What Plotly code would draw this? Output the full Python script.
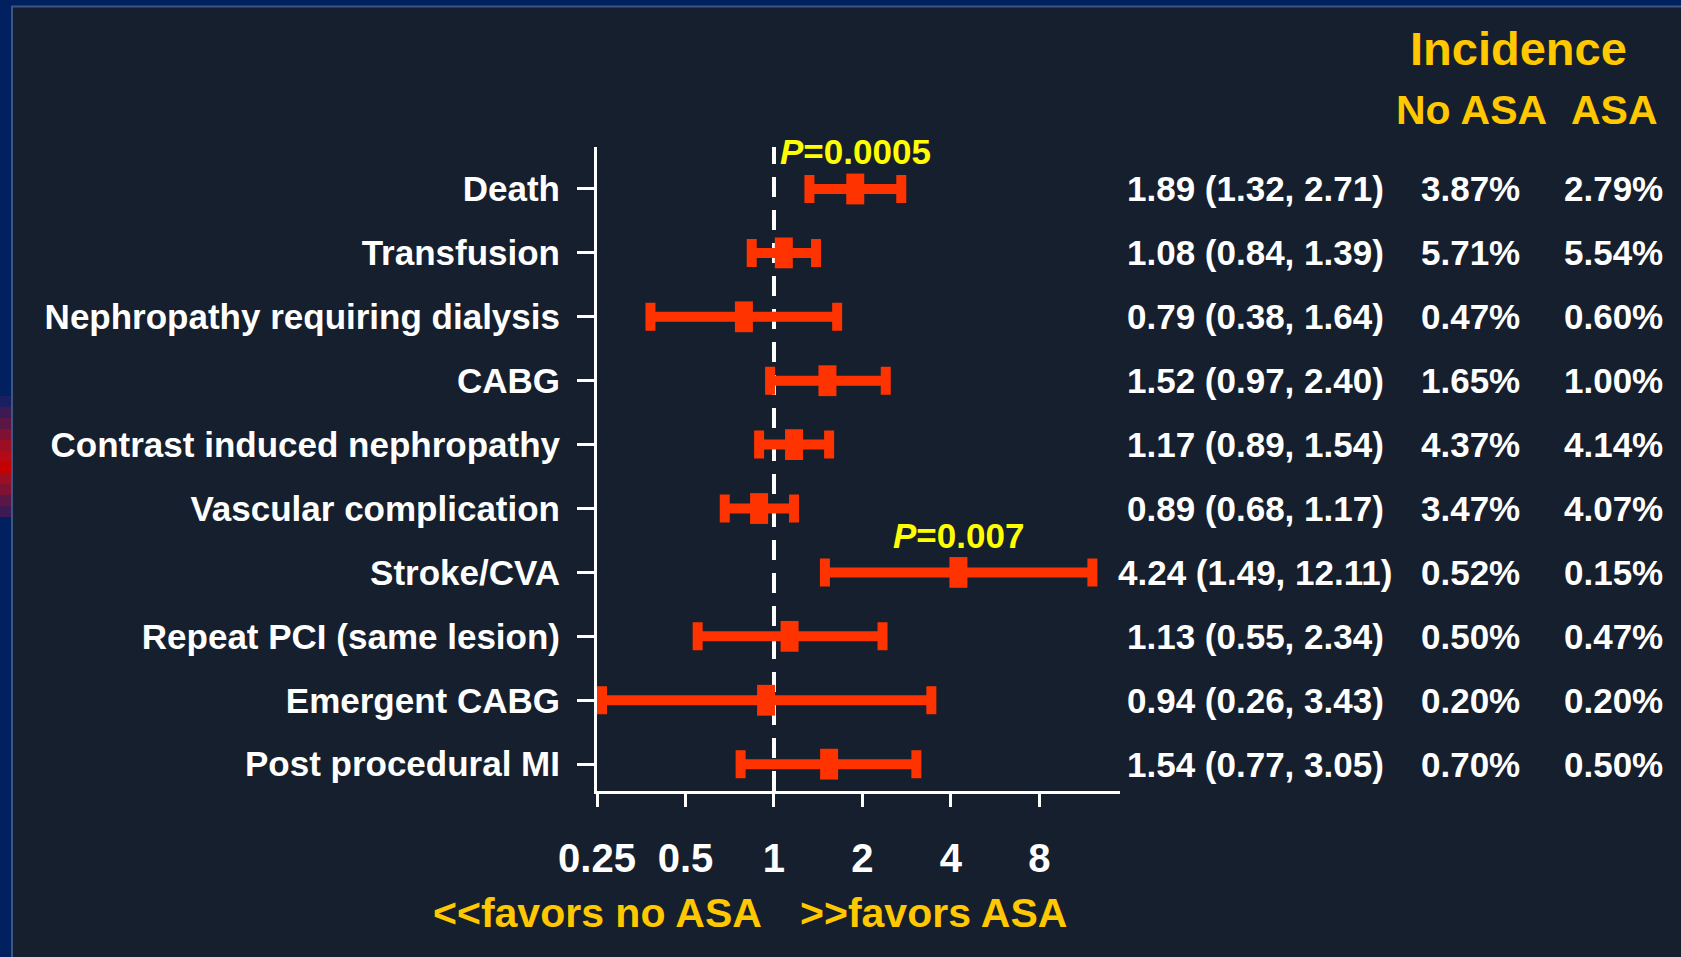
import math
import plotly.graph_objects as go

# ---- data -------------------------------------------------------------
outcomes = [
    "Death",
    "Transfusion",
    "Nephropathy requiring dialysis",
    "CABG",
    "Contrast induced nephropathy",
    "Vascular complication",
    "Stroke/CVA",
    "Repeat PCI (same lesion)",
    "Emergent CABG",
    "Post procedural MI",
]
odds_ratio = [1.89, 1.08, 0.79, 1.52, 1.17, 0.89, 4.24, 1.13, 0.94, 1.54]
ci_low = [1.32, 0.84, 0.38, 0.97, 0.89, 0.68, 1.49, 0.55, 0.26, 0.77]
ci_high = [2.71, 1.39, 1.64, 2.40, 1.54, 1.17, 12.11, 2.34, 3.43, 3.05]
incidence_no_asa = [3.87, 5.71, 0.47, 1.65, 4.37, 3.47, 0.52, 0.50, 0.20, 0.70]
incidence_asa = [2.79, 5.54, 0.60, 1.00, 4.14, 4.07, 0.15, 0.47, 0.20, 0.50]
p_value_labels = {"Death": "0.0005", "Stroke/CVA": "0.007"}
x_tick_values = [0.25, 0.5, 1, 2, 4, 8]
x_tick_labels = ["0.25", "0.5", "1", "2", "4", "8"]

# ---- page geometry / styling -------------------------------------------
W, H = 1681, 957
PLOT_L, PLOT_R, PLOT_T, PLOT_B = 597, 1120, 147, 791
OUTER_BLUE = "#00205f"
PANEL = "#161f2d"
EDGE = "#3d5580"
BAR_RED = "#ff3300"
GOLD = "#ffc800"
LEMON = "#ffff00"
WHITE = "#ffffff"
FONT = "Liberation Sans, Arial, sans-serif"

rows = list(range(len(outcomes)))


def px_x(px):
    """page pixel -> paper x"""
    return (px - PLOT_L) / (PLOT_R - PLOT_L)


def px_y(py):
    """page pixel -> paper y"""
    return (PLOT_B - py) / (PLOT_B - PLOT_T)


fig = go.Figure()

# odds ratios with 95% CI
fig.add_trace(
    go.Scatter(
        x=odds_ratio,
        y=rows,
        mode="markers",
        marker=dict(
            symbol="line-ns",
            size=22,
            color=BAR_RED,
            line=dict(color=BAR_RED, width=18),
        ),
        error_x=dict(
            type="data",
            symmetric=False,
            array=[h - o for h, o in zip(ci_high, odds_ratio)],
            arrayminus=[o - l for o, l in zip(odds_ratio, ci_low)],
            color=BAR_RED,
            thickness=10,
            width=14,
        ),
        hoverinfo="skip",
        showlegend=False,
    )
)

shapes = []
# slide background: blue frame + dark panel
shapes.append(dict(type="rect", xref="paper", yref="paper", layer="below",
                   x0=px_x(0), x1=px_x(W), y0=px_y(0), y1=px_y(H),
                   fillcolor=OUTER_BLUE, line=dict(width=0)))
shapes.append(dict(type="rect", xref="paper", yref="paper", layer="below",
                   x0=px_x(11), x1=px_x(W + 5), y0=px_y(5.5), y1=px_y(H + 5),
                   fillcolor=EDGE, line=dict(width=0)))
shapes.append(dict(type="rect", xref="paper", yref="paper", layer="below",
                   x0=px_x(13), x1=px_x(W + 5), y0=px_y(7.5), y1=px_y(H + 5),
                   fillcolor=PANEL, line=dict(width=0)))

# red glow on the left frame edge
glow = ["#1a1f62", "#3e1a55", "#5a1645", "#7f1232", "#9c0e24", "#b50a15",
        "#c40000", "#9c0e24", "#7f1232", "#5a1645", "#3e1a55"]
band_top, band_h = 396, 11.0
for i, c in enumerate(glow):
    shapes.append(dict(type="rect", xref="paper", yref="paper", layer="below",
                       x0=px_x(0), x1=px_x(11),
                       y0=px_y(band_top + i * band_h),
                       y1=px_y(band_top + (i + 1) * band_h),
                       fillcolor=c, line=dict(width=0)))

# line of no effect
shapes.append(dict(type="line", xref="x", yref="paper", layer="below",
                   x0=1, x1=1, y0=0, y1=1,
                   line=dict(color=WHITE, width=4, dash="20px,13px")))

annotations = []

# estimate column and incidence columns
col_or, col_no, col_asa = 1255, 1470, 1613
for r, o, lo, hi, n, a in zip(rows, odds_ratio, ci_low, ci_high,
                              incidence_no_asa, incidence_asa):
    for px, txt in ((col_or, f"{o:.2f} ({lo:.2f}, {hi:.2f})"),
                    (col_no, f"{n:.2f}%"),
                    (col_asa, f"{a:.2f}%")):
        annotations.append(dict(
            xref="paper", yref="y", x=px_x(px), y=r, text=txt,
            showarrow=False, xanchor="center", yanchor="middle",
            font=dict(family=FONT, size=35, color=WHITE, weight="bold")))

# table headers
annotations.append(dict(xref="paper", yref="paper", x=px_x(1518), y=px_y(48),
                        text="Incidence", showarrow=False, xanchor="center",
                        yanchor="middle",
                        font=dict(family=FONT, size=47, color=GOLD, weight="bold")))
for px, txt in ((1471, "No ASA"), (1614, "ASA")):
    annotations.append(dict(xref="paper", yref="paper", x=px_x(px), y=px_y(110),
                            text=txt, showarrow=False, xanchor="center",
                            yanchor="middle",
                            font=dict(family=FONT, size=41, color=GOLD, weight="bold")))

# significance labels over the estimates (log axis -> log10 position)
for name, p in p_value_labels.items():
    r = outcomes.index(name)
    annotations.append(dict(xref="x", yref="y", x=math.log10(odds_ratio[r]), y=r,
                            yshift=37, text=f"<i>P</i>={p}", showarrow=False,
                            xanchor="center", yanchor="middle",
                            font=dict(family=FONT, size=35, color=LEMON, weight="bold")))

# direction captions under the axis
for px, txt in ((597, "&lt;&lt;favors no ASA"), (933, "&gt;&gt;favors ASA")):
    annotations.append(dict(xref="paper", yref="paper", x=px_x(px), y=px_y(913),
                            text=txt, showarrow=False, xanchor="center",
                            yanchor="middle",
                            font=dict(family=FONT, size=41, color=GOLD, weight="bold")))

fig.update_layout(
    width=W,
    height=H,
    margin=dict(l=PLOT_L, r=W - PLOT_R, t=PLOT_T, b=H - PLOT_B, pad=0),
    paper_bgcolor=OUTER_BLUE,
    plot_bgcolor="rgba(0,0,0,0)",
    shapes=shapes,
    annotations=annotations,
    xaxis=dict(
        type="log",
        range=[-0.60206, 1.177],
        tickvals=x_tick_values,
        ticktext=x_tick_labels,
        showgrid=False,
        zeroline=False,
        showline=True,
        linecolor=WHITE,
        linewidth=3,
        ticks="outside",
        ticklen=13,
        tickwidth=3,
        tickcolor=WHITE,
        ticklabelstandoff=17,
        tickfont=dict(family=FONT, size=40, color=WHITE, weight="bold"),
    ),
    yaxis=dict(
        range=[9.42, -0.657],
        tickvals=rows,
        ticktext=outcomes,
        showgrid=False,
        zeroline=False,
        showline=True,
        linecolor=WHITE,
        linewidth=3,
        ticks="outside",
        ticklen=17,
        tickwidth=3,
        tickcolor=WHITE,
        ticklabelstandoff=10,
        tickfont=dict(family=FONT, size=35, color=WHITE, weight="bold"),
    ),
)

fig.write_html("out.html")
